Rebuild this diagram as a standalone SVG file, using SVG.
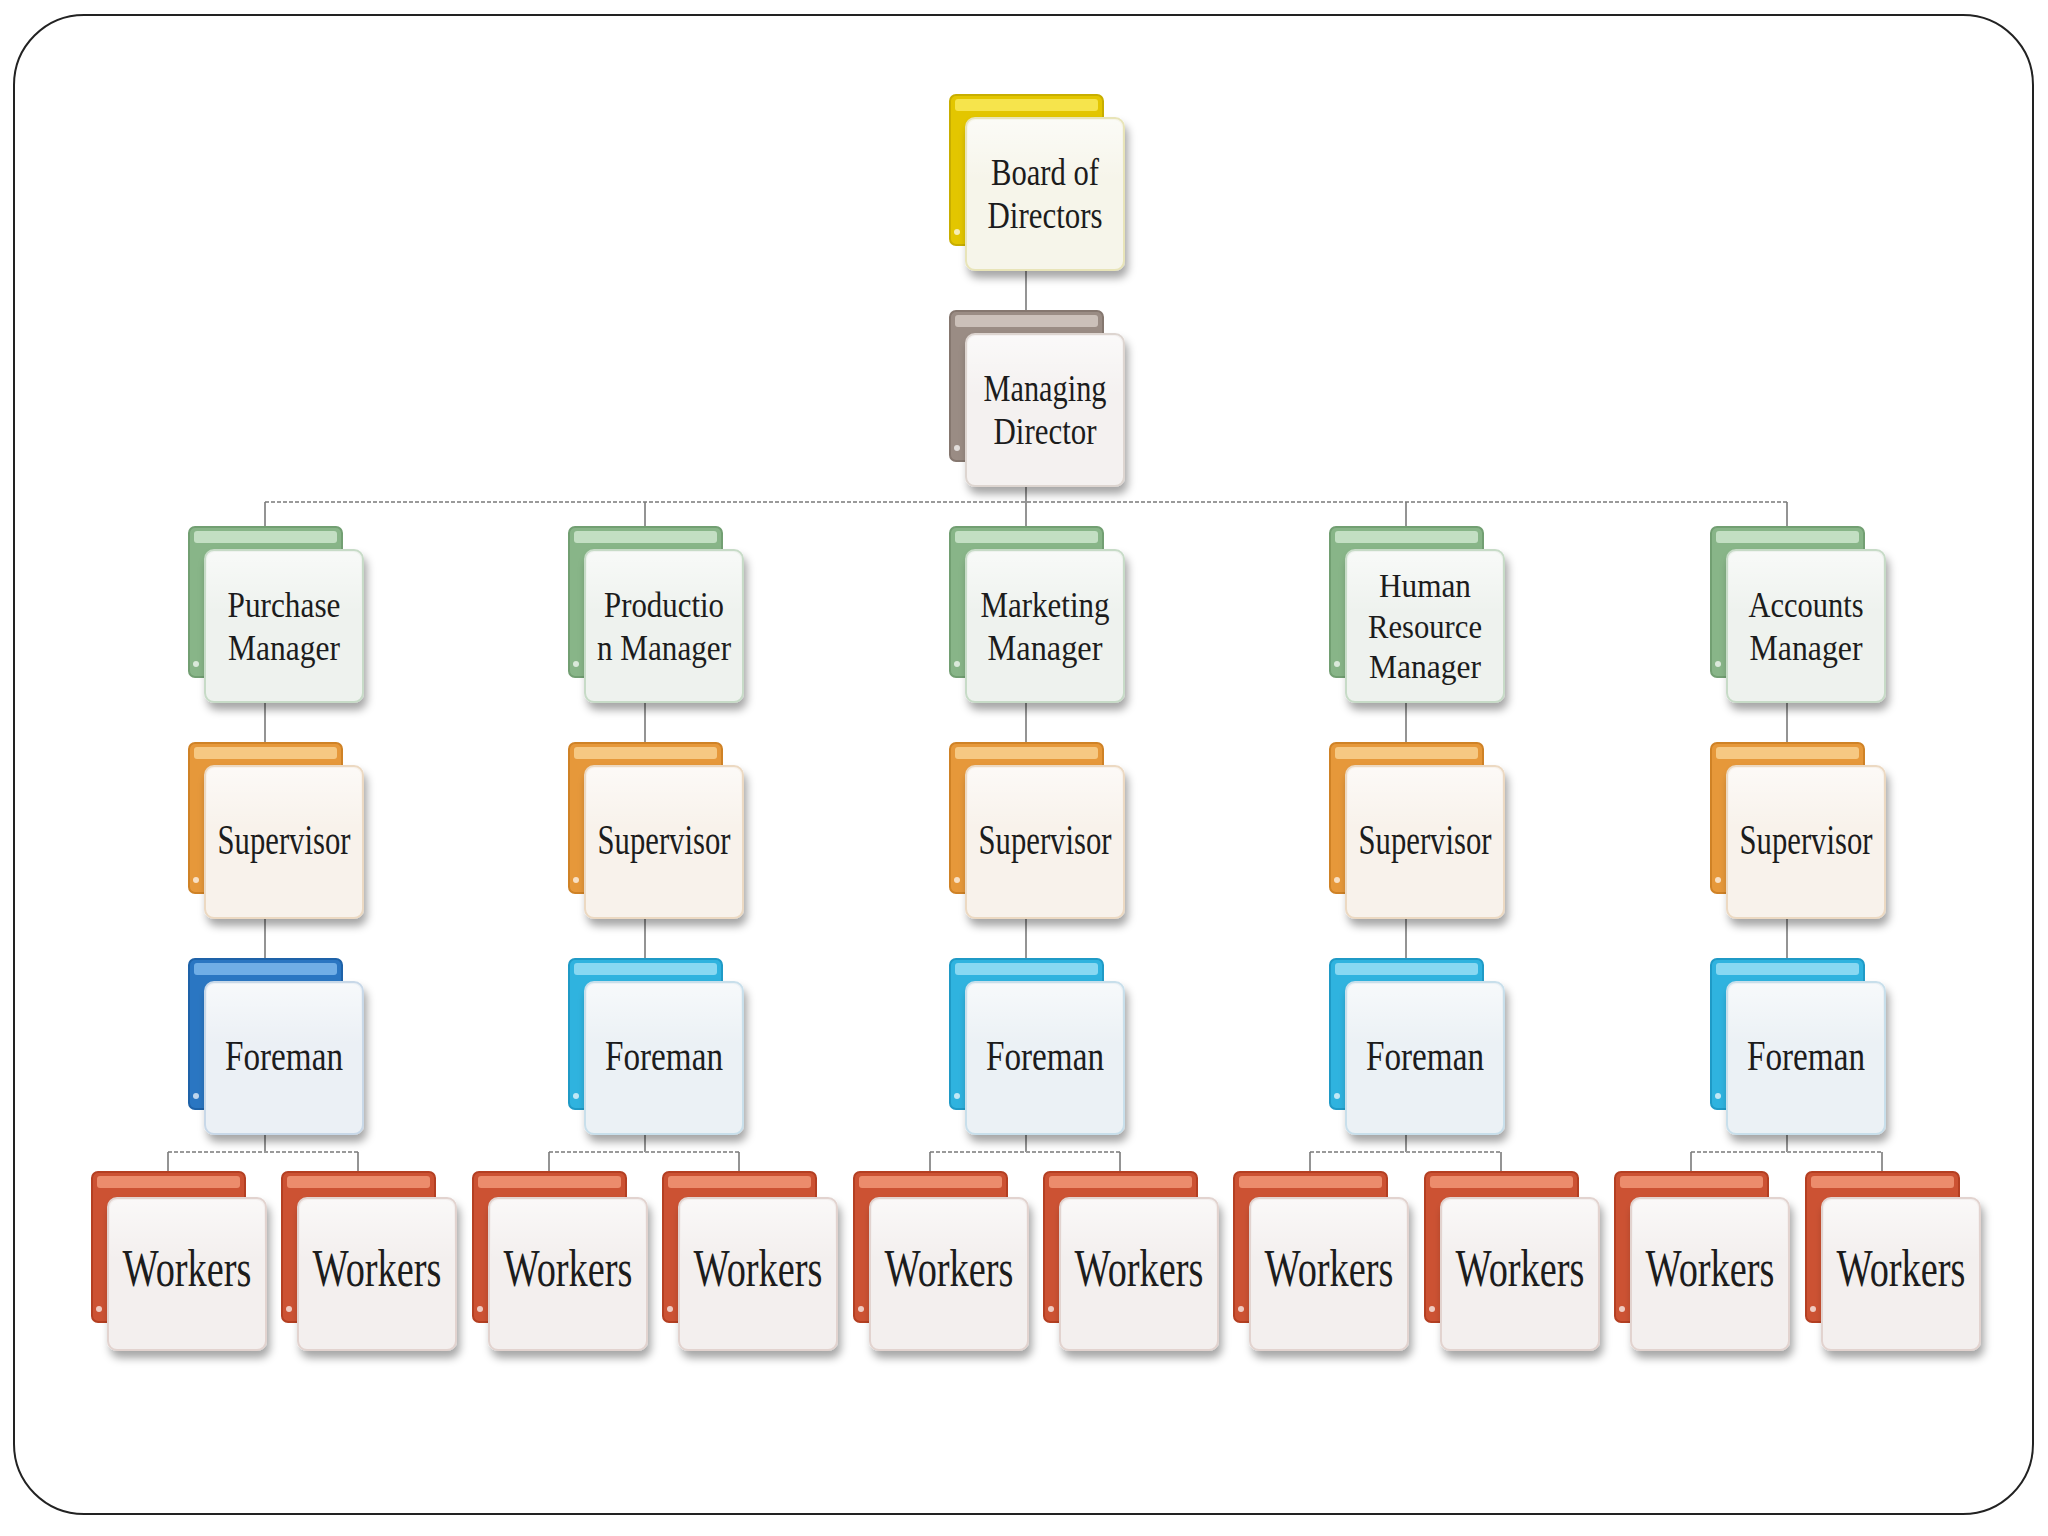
<svg xmlns="http://www.w3.org/2000/svg" width="2048" height="1536" viewBox="0 0 2048 1536">
<defs>
<filter id="sh" x="-20%" y="-20%" width="150%" height="150%">
<feDropShadow dx="3" dy="7" stdDeviation="4" flood-color="#000" flood-opacity="0.35"/>
</filter>
<linearGradient id="fg" x1="0" y1="0" x2="0" y2="1">
<stop offset="0" stop-color="#ffffff" stop-opacity="0.6"/>
<stop offset="1" stop-color="#ffffff" stop-opacity="0"/>
</linearGradient>
<style>
.back{stroke-width:2}
.front{stroke-width:2;filter:url(#sh)}
.gl{fill:url(#fg)}
.dot{fill:#ffffff;opacity:0.7}
text{font-family:"Liberation Serif","Times New Roman",serif;fill:#1c1c1c;text-anchor:middle}
.t1{font-size:38px}
.t2{font-size:36px}
.t3{font-size:34px}
.t4{font-size:42px}
.t5{font-size:52px}
.yellow .back{fill:#e3c600;stroke:#c8ae00}.yellow .bin{fill:#f6e44c}.yellow .front{fill:#f6f5ea;stroke:#e8e4b8}
.brown .back{fill:#9a8c84;stroke:#85776f}.brown .bin{fill:#cbc0b9}.brown .front{fill:#f4f1f0;stroke:#ddd5d0}
.green .back{fill:#88b588;stroke:#729f72}.green .bin{fill:#c3dfc3}.green .front{fill:#eef2ee;stroke:#c7dbc7}
.orange .back{fill:#e6983a;stroke:#cf8226}.orange .bin{fill:#f6c882}.orange .front{fill:#f8f2eb;stroke:#ecd9c2}
.blue .back{fill:#2a76c2;stroke:#1e62a8}.blue .bin{fill:#70aee6}.blue .front{fill:#ebf0f5;stroke:#c8d8e8}
.cyan .back{fill:#2fb3df;stroke:#1f9ac6}.cyan .bin{fill:#88d8f2}.cyan .front{fill:#ebf1f5;stroke:#c8dfeb}
.red .back{fill:#cc5233;stroke:#b43f22}.red .bin{fill:#ec8c6c}.red .front{fill:#f3efee;stroke:#e2d3cf}
.conn path{fill:none;stroke:#7a7a7a;stroke-width:1.6}
.conn path.bar{stroke:#9a9a9a;stroke-dasharray:4 2;stroke-width:2}
</style>
</defs>
<rect x="0" y="0" width="2048" height="1536" fill="#ffffff"/>
<rect x="14" y="15" width="2019" height="1499" rx="70" ry="70" fill="#ffffff" stroke="#222222" stroke-width="2"/>

<g id="connectors" class="conn">
<path d="M1026 268V311"/>
<path d="M1026 486V502"/>
<path class="bar" d="M265 502H1787"/>
<path d="M265 502V527M645 502V527M1026 502V527M1406 502V527M1787 502V527"/>
<path d="M265 700V743M645 700V743M1026 700V743M1406 700V743M1787 700V743"/>
<path d="M265 916V959M645 916V959M1026 916V959M1406 916V959M1787 916V959"/>
<path d="M265 1132V1152M645 1132V1152M1026 1132V1152M1406 1132V1152M1787 1132V1152"/>
<path class="bar" d="M168 1152H358M549 1152H739M930 1152H1120M1310 1152H1501M1691 1152H1882"/>
<path d="M168 1152V1175M358 1152V1175M549 1152V1175M739 1152V1175M930 1152V1175M1120 1152V1175M1310 1152V1175M1501 1152V1175M1691 1152V1175M1882 1152V1175"/>
</g>

<g id="board" class="node yellow">
<rect class="back" x="950" y="95" width="153" height="150" rx="6"/><rect class="bin" x="955" y="99" width="143" height="12" rx="3"/><circle class="dot" cx="957" cy="232" r="3"/>
<rect class="front" x="966" y="118" width="158" height="152" rx="9"/><rect class="gl" x="968" y="120" width="154" height="60" rx="8"/>
<text class="t1" x="1045" y="185" textLength="108" lengthAdjust="spacingAndGlyphs">Board of</text>
<text class="t1" x="1045" y="228" textLength="115" lengthAdjust="spacingAndGlyphs">Directors</text>
</g>

<g id="md" class="node brown">
<rect class="back" x="950" y="311" width="153" height="150" rx="6"/><rect class="bin" x="955" y="315" width="143" height="12" rx="3"/><circle class="dot" cx="957" cy="448" r="3"/>
<rect class="front" x="966" y="334" width="158" height="152" rx="9"/><rect class="gl" x="968" y="336" width="154" height="60" rx="8"/>
<text class="t1" x="1045" y="401" textLength="123" lengthAdjust="spacingAndGlyphs">Managing</text>
<text class="t1" x="1045" y="444" textLength="103" lengthAdjust="spacingAndGlyphs">Director</text>
</g>

<g id="mgr-purchase" class="node green">
<rect class="back" x="189" y="527" width="153" height="150" rx="6"/><rect class="bin" x="194" y="531" width="143" height="12" rx="3"/><circle class="dot" cx="196" cy="664" r="3"/>
<rect class="front" x="205" y="550" width="158" height="152" rx="9"/><rect class="gl" x="207" y="552" width="154" height="60" rx="8"/>
<text class="t2" x="284" y="617" textLength="113" lengthAdjust="spacingAndGlyphs">Purchase</text>
<text class="t2" x="284" y="660" textLength="112" lengthAdjust="spacingAndGlyphs">Manager</text>
</g>
<g id="mgr-production" class="node green">
<rect class="back" x="569" y="527" width="153" height="150" rx="6"/><rect class="bin" x="574" y="531" width="143" height="12" rx="3"/><circle class="dot" cx="576" cy="664" r="3"/>
<rect class="front" x="585" y="550" width="158" height="152" rx="9"/><rect class="gl" x="587" y="552" width="154" height="60" rx="8"/>
<text class="t2" x="664" y="617" textLength="120" lengthAdjust="spacingAndGlyphs">Productio</text>
<text class="t2" x="664" y="660" textLength="134" lengthAdjust="spacingAndGlyphs">n Manager</text>
</g>
<g id="mgr-marketing" class="node green">
<rect class="back" x="950" y="527" width="153" height="150" rx="6"/><rect class="bin" x="955" y="531" width="143" height="12" rx="3"/><circle class="dot" cx="957" cy="664" r="3"/>
<rect class="front" x="966" y="550" width="158" height="152" rx="9"/><rect class="gl" x="968" y="552" width="154" height="60" rx="8"/>
<text class="t2" x="1045" y="617" textLength="129" lengthAdjust="spacingAndGlyphs">Marketing</text>
<text class="t2" x="1045" y="660" textLength="115" lengthAdjust="spacingAndGlyphs">Manager</text>
</g>
<g id="mgr-hr" class="node green">
<rect class="back" x="1330" y="527" width="153" height="150" rx="6"/><rect class="bin" x="1335" y="531" width="143" height="12" rx="3"/><circle class="dot" cx="1337" cy="664" r="3"/>
<rect class="front" x="1346" y="550" width="158" height="152" rx="9"/><rect class="gl" x="1348" y="552" width="154" height="60" rx="8"/>
<text class="t3" x="1425" y="597" textLength="92" lengthAdjust="spacingAndGlyphs">Human</text>
<text class="t3" x="1425" y="638" textLength="114" lengthAdjust="spacingAndGlyphs">Resource</text>
<text class="t3" x="1425" y="678" textLength="112" lengthAdjust="spacingAndGlyphs">Manager</text>
</g>
<g id="mgr-accounts" class="node green">
<rect class="back" x="1711" y="527" width="153" height="150" rx="6"/><rect class="bin" x="1716" y="531" width="143" height="12" rx="3"/><circle class="dot" cx="1718" cy="664" r="3"/>
<rect class="front" x="1727" y="550" width="158" height="152" rx="9"/><rect class="gl" x="1729" y="552" width="154" height="60" rx="8"/>
<text class="t2" x="1806" y="617" textLength="115" lengthAdjust="spacingAndGlyphs">Accounts</text>
<text class="t2" x="1806" y="660" textLength="113" lengthAdjust="spacingAndGlyphs">Manager</text>
</g>

<g id="sup-1" class="node orange">
<rect class="back" x="189" y="743" width="153" height="150" rx="6"/><rect class="bin" x="194" y="747" width="143" height="12" rx="3"/><circle class="dot" cx="196" cy="880" r="3"/>
<rect class="front" x="205" y="766" width="158" height="152" rx="9"/><rect class="gl" x="207" y="768" width="154" height="60" rx="8"/>
<text class="t4" x="284" y="854" textLength="133" lengthAdjust="spacingAndGlyphs">Supervisor</text>
</g>
<g id="sup-2" class="node orange">
<rect class="back" x="569" y="743" width="153" height="150" rx="6"/><rect class="bin" x="574" y="747" width="143" height="12" rx="3"/><circle class="dot" cx="576" cy="880" r="3"/>
<rect class="front" x="585" y="766" width="158" height="152" rx="9"/><rect class="gl" x="587" y="768" width="154" height="60" rx="8"/>
<text class="t4" x="664" y="854" textLength="133" lengthAdjust="spacingAndGlyphs">Supervisor</text>
</g>
<g id="sup-3" class="node orange">
<rect class="back" x="950" y="743" width="153" height="150" rx="6"/><rect class="bin" x="955" y="747" width="143" height="12" rx="3"/><circle class="dot" cx="957" cy="880" r="3"/>
<rect class="front" x="966" y="766" width="158" height="152" rx="9"/><rect class="gl" x="968" y="768" width="154" height="60" rx="8"/>
<text class="t4" x="1045" y="854" textLength="133" lengthAdjust="spacingAndGlyphs">Supervisor</text>
</g>
<g id="sup-4" class="node orange">
<rect class="back" x="1330" y="743" width="153" height="150" rx="6"/><rect class="bin" x="1335" y="747" width="143" height="12" rx="3"/><circle class="dot" cx="1337" cy="880" r="3"/>
<rect class="front" x="1346" y="766" width="158" height="152" rx="9"/><rect class="gl" x="1348" y="768" width="154" height="60" rx="8"/>
<text class="t4" x="1425" y="854" textLength="133" lengthAdjust="spacingAndGlyphs">Supervisor</text>
</g>
<g id="sup-5" class="node orange">
<rect class="back" x="1711" y="743" width="153" height="150" rx="6"/><rect class="bin" x="1716" y="747" width="143" height="12" rx="3"/><circle class="dot" cx="1718" cy="880" r="3"/>
<rect class="front" x="1727" y="766" width="158" height="152" rx="9"/><rect class="gl" x="1729" y="768" width="154" height="60" rx="8"/>
<text class="t4" x="1806" y="854" textLength="133" lengthAdjust="spacingAndGlyphs">Supervisor</text>
</g>

<g id="fore-1" class="node blue">
<rect class="back" x="189" y="959" width="153" height="150" rx="6"/><rect class="bin" x="194" y="963" width="143" height="12" rx="3"/><circle class="dot" cx="196" cy="1096" r="3"/>
<rect class="front" x="205" y="982" width="158" height="152" rx="9"/><rect class="gl" x="207" y="984" width="154" height="60" rx="8"/>
<text class="t4" x="284" y="1070" textLength="118" lengthAdjust="spacingAndGlyphs">Foreman</text>
</g>
<g id="fore-2" class="node cyan">
<rect class="back" x="569" y="959" width="153" height="150" rx="6"/><rect class="bin" x="574" y="963" width="143" height="12" rx="3"/><circle class="dot" cx="576" cy="1096" r="3"/>
<rect class="front" x="585" y="982" width="158" height="152" rx="9"/><rect class="gl" x="587" y="984" width="154" height="60" rx="8"/>
<text class="t4" x="664" y="1070" textLength="118" lengthAdjust="spacingAndGlyphs">Foreman</text>
</g>
<g id="fore-3" class="node cyan">
<rect class="back" x="950" y="959" width="153" height="150" rx="6"/><rect class="bin" x="955" y="963" width="143" height="12" rx="3"/><circle class="dot" cx="957" cy="1096" r="3"/>
<rect class="front" x="966" y="982" width="158" height="152" rx="9"/><rect class="gl" x="968" y="984" width="154" height="60" rx="8"/>
<text class="t4" x="1045" y="1070" textLength="118" lengthAdjust="spacingAndGlyphs">Foreman</text>
</g>
<g id="fore-4" class="node cyan">
<rect class="back" x="1330" y="959" width="153" height="150" rx="6"/><rect class="bin" x="1335" y="963" width="143" height="12" rx="3"/><circle class="dot" cx="1337" cy="1096" r="3"/>
<rect class="front" x="1346" y="982" width="158" height="152" rx="9"/><rect class="gl" x="1348" y="984" width="154" height="60" rx="8"/>
<text class="t4" x="1425" y="1070" textLength="118" lengthAdjust="spacingAndGlyphs">Foreman</text>
</g>
<g id="fore-5" class="node cyan">
<rect class="back" x="1711" y="959" width="153" height="150" rx="6"/><rect class="bin" x="1716" y="963" width="143" height="12" rx="3"/><circle class="dot" cx="1718" cy="1096" r="3"/>
<rect class="front" x="1727" y="982" width="158" height="152" rx="9"/><rect class="gl" x="1729" y="984" width="154" height="60" rx="8"/>
<text class="t4" x="1806" y="1070" textLength="118" lengthAdjust="spacingAndGlyphs">Foreman</text>
</g>

<g id="wk-1" class="node red">
<rect class="back" x="92" y="1172" width="153" height="150" rx="6"/><rect class="bin" x="97" y="1176" width="143" height="12" rx="3"/><circle class="dot" cx="99" cy="1309" r="3"/>
<rect class="front" x="108" y="1198" width="158" height="152" rx="9"/><rect class="gl" x="110" y="1200" width="154" height="60" rx="8"/>
<text class="t5" x="187" y="1286" textLength="129" lengthAdjust="spacingAndGlyphs">Workers</text>
</g>
<g id="wk-2" class="node red">
<rect class="back" x="282" y="1172" width="153" height="150" rx="6"/><rect class="bin" x="287" y="1176" width="143" height="12" rx="3"/><circle class="dot" cx="289" cy="1309" r="3"/>
<rect class="front" x="298" y="1198" width="158" height="152" rx="9"/><rect class="gl" x="300" y="1200" width="154" height="60" rx="8"/>
<text class="t5" x="377" y="1286" textLength="129" lengthAdjust="spacingAndGlyphs">Workers</text>
</g>
<g id="wk-3" class="node red">
<rect class="back" x="473" y="1172" width="153" height="150" rx="6"/><rect class="bin" x="478" y="1176" width="143" height="12" rx="3"/><circle class="dot" cx="480" cy="1309" r="3"/>
<rect class="front" x="489" y="1198" width="158" height="152" rx="9"/><rect class="gl" x="491" y="1200" width="154" height="60" rx="8"/>
<text class="t5" x="568" y="1286" textLength="129" lengthAdjust="spacingAndGlyphs">Workers</text>
</g>
<g id="wk-4" class="node red">
<rect class="back" x="663" y="1172" width="153" height="150" rx="6"/><rect class="bin" x="668" y="1176" width="143" height="12" rx="3"/><circle class="dot" cx="670" cy="1309" r="3"/>
<rect class="front" x="679" y="1198" width="158" height="152" rx="9"/><rect class="gl" x="681" y="1200" width="154" height="60" rx="8"/>
<text class="t5" x="758" y="1286" textLength="129" lengthAdjust="spacingAndGlyphs">Workers</text>
</g>
<g id="wk-5" class="node red">
<rect class="back" x="854" y="1172" width="153" height="150" rx="6"/><rect class="bin" x="859" y="1176" width="143" height="12" rx="3"/><circle class="dot" cx="861" cy="1309" r="3"/>
<rect class="front" x="870" y="1198" width="158" height="152" rx="9"/><rect class="gl" x="872" y="1200" width="154" height="60" rx="8"/>
<text class="t5" x="949" y="1286" textLength="129" lengthAdjust="spacingAndGlyphs">Workers</text>
</g>
<g id="wk-6" class="node red">
<rect class="back" x="1044" y="1172" width="153" height="150" rx="6"/><rect class="bin" x="1049" y="1176" width="143" height="12" rx="3"/><circle class="dot" cx="1051" cy="1309" r="3"/>
<rect class="front" x="1060" y="1198" width="158" height="152" rx="9"/><rect class="gl" x="1062" y="1200" width="154" height="60" rx="8"/>
<text class="t5" x="1139" y="1286" textLength="129" lengthAdjust="spacingAndGlyphs">Workers</text>
</g>
<g id="wk-7" class="node red">
<rect class="back" x="1234" y="1172" width="153" height="150" rx="6"/><rect class="bin" x="1239" y="1176" width="143" height="12" rx="3"/><circle class="dot" cx="1241" cy="1309" r="3"/>
<rect class="front" x="1250" y="1198" width="158" height="152" rx="9"/><rect class="gl" x="1252" y="1200" width="154" height="60" rx="8"/>
<text class="t5" x="1329" y="1286" textLength="129" lengthAdjust="spacingAndGlyphs">Workers</text>
</g>
<g id="wk-8" class="node red">
<rect class="back" x="1425" y="1172" width="153" height="150" rx="6"/><rect class="bin" x="1430" y="1176" width="143" height="12" rx="3"/><circle class="dot" cx="1432" cy="1309" r="3"/>
<rect class="front" x="1441" y="1198" width="158" height="152" rx="9"/><rect class="gl" x="1443" y="1200" width="154" height="60" rx="8"/>
<text class="t5" x="1520" y="1286" textLength="129" lengthAdjust="spacingAndGlyphs">Workers</text>
</g>
<g id="wk-9" class="node red">
<rect class="back" x="1615" y="1172" width="153" height="150" rx="6"/><rect class="bin" x="1620" y="1176" width="143" height="12" rx="3"/><circle class="dot" cx="1622" cy="1309" r="3"/>
<rect class="front" x="1631" y="1198" width="158" height="152" rx="9"/><rect class="gl" x="1633" y="1200" width="154" height="60" rx="8"/>
<text class="t5" x="1710" y="1286" textLength="129" lengthAdjust="spacingAndGlyphs">Workers</text>
</g>
<g id="wk-10" class="node red">
<rect class="back" x="1806" y="1172" width="153" height="150" rx="6"/><rect class="bin" x="1811" y="1176" width="143" height="12" rx="3"/><circle class="dot" cx="1813" cy="1309" r="3"/>
<rect class="front" x="1822" y="1198" width="158" height="152" rx="9"/><rect class="gl" x="1824" y="1200" width="154" height="60" rx="8"/>
<text class="t5" x="1901" y="1286" textLength="129" lengthAdjust="spacingAndGlyphs">Workers</text>
</g>
</svg>
